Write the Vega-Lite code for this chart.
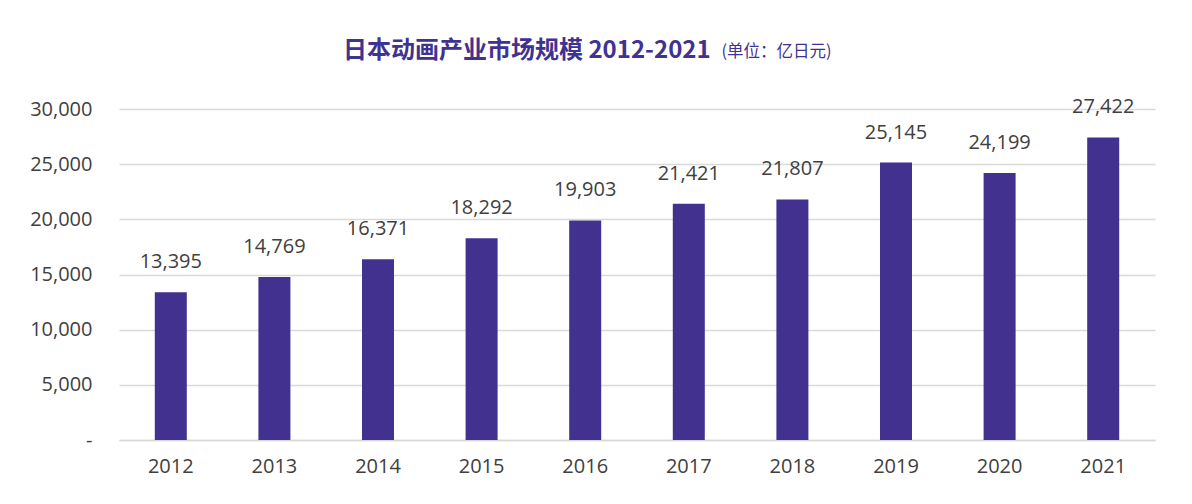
{
  "$schema": "https://vega.github.io/schema/vega-lite/v6.json",
  "autosize": {"type": "none"},
  "width": 1036,
  "height": 331,
  "padding": {"left": 119, "top": 109, "right": 37, "bottom": 64},
  "background": "white",
  "title": {
    "text": "日本动画产业市场规模 2012-2021",
    "anchor": "start",
    "frame": "group",
    "dx": 224,
    "font": "Noto Sans CJK SC",
    "fontSize": 24,
    "fontWeight": "bold",
    "color": "#3F3291",
    "offset": -20
  },
  "data": {
    "values": [
      {"year": "2012", "value": 13395},
      {"year": "2013", "value": 14769},
      {"year": "2014", "value": 16371},
      {"year": "2015", "value": 18292},
      {"year": "2016", "value": 19903},
      {"year": "2017", "value": 21421},
      {"year": "2018", "value": 21807},
      {"year": "2019", "value": 25145},
      {"year": "2020", "value": 24199},
      {"year": "2021", "value": 27422}
    ]
  },
  "encoding": {
    "x": {
      "field": "year",
      "type": "ordinal",
      "scale": {"paddingInner": 0, "paddingOuter": 0},
      "axis": {
        "title": null,
        "labelAngle": 0,
        "ticks": false,
        "domain": true,
        "domainColor": "#d9d9d9",
        "domainWidth": 1.5,
        "labelPadding": 16,
        "labelFont": "Open Sans",
        "labelFontSize": 20,
        "labelColor": "#404040"
      }
    },
    "y": {
      "field": "value",
      "type": "quantitative",
      "scale": {"domain": [0, 30000], "nice": false},
      "axis": {
        "title": "(单位：亿日元)",
        "titleAngle": 0,
        "titleAlign": "left",
        "titleBaseline": "alphabetic",
        "titleX": 602,
        "titleY": -53,
        "titleFont": "Noto Sans CJK SC",
        "titleFontSize": 16.5,
        "titleFontWeight": "normal",
        "titleColor": "#3F3291",
        "values": [0, 5000, 10000, 15000, 20000, 25000, 30000],
        "labelExpr": "datum.value === 0 ? '-' : format(datum.value, ',')",
        "ticks": false,
        "domain": false,
        "grid": true,
        "gridColor": "#d9d9d9",
        "gridWidth": 1.5,
        "labelPadding": 27,
        "labelFont": "Open Sans",
        "labelFontSize": 20,
        "labelColor": "#404040"
      }
    }
  },
  "layer": [
    {"mark": {"type": "bar", "size": 32, "color": "#42318F"}},
    {
      "mark": {
        "type": "text",
        "baseline": "alphabetic",
        "dy": -24,
        "font": "Open Sans",
        "fontSize": 20,
        "color": "#404040"
      },
      "encoding": {"text": {"field": "value", "type": "quantitative", "format": ","}}
    }
  ],
  "config": {"view": {"stroke": null}}
}
